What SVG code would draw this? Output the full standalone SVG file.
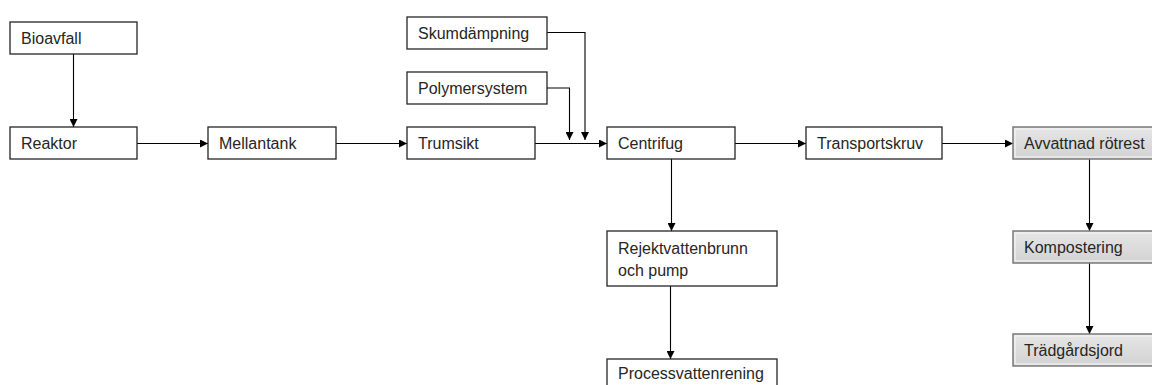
<svg xmlns="http://www.w3.org/2000/svg" width="1152" height="385" viewBox="0 0 1152 385">
<style>
.box{fill:#ffffff;stroke:#262626;stroke-width:1.3}
.gbox{fill:url(#gg);stroke:#7a7a7a;stroke-width:1.5}
.bevel{fill:none;stroke:#f4f4f4;stroke-width:1.2}
.t{font-family:"Liberation Sans",Arial,sans-serif;font-size:16px;fill:#262626}
.c{fill:none;stroke:#000000;stroke-width:1.1}
</style>
<defs>
<marker id="ah" viewBox="0 0 10 10" refX="10" refY="5" markerWidth="8" markerHeight="8" markerUnits="userSpaceOnUse" orient="auto">
<path d="M0,0 L10,5 L0,10 Z" fill="#000"/>
</marker>
<linearGradient id="gg" x1="0" y1="0" x2="0" y2="1">
<stop offset="0" stop-color="#e6e6e6"/>
<stop offset="1" stop-color="#d2d2d2"/>
</linearGradient>
</defs>
<g id="connectors">
<path class="c" d="M73.5,54 V127" marker-end="url(#ah)"/>
<path class="c" d="M137,143.5 H208" marker-end="url(#ah)"/>
<path class="c" d="M336,143.5 H407" marker-end="url(#ah)"/>
<path class="c" d="M535,143.5 H607" marker-end="url(#ah)"/>
<path class="c" d="M547,32.5 H585 V140" marker-end="url(#ah)"/>
<path class="c" d="M547,88 H569.5 V140" marker-end="url(#ah)"/>
<path class="c" d="M735,143.5 H806" marker-end="url(#ah)"/>
<path class="c" d="M942,143.5 H1013" marker-end="url(#ah)"/>
<path class="c" d="M671.5,159 V231" marker-end="url(#ah)"/>
<path class="c" d="M670.5,286 V359" marker-end="url(#ah)"/>
<path class="c" d="M1089.5,159 V231" marker-end="url(#ah)"/>
<path class="c" d="M1089.5,263 V334" marker-end="url(#ah)"/>
</g>
<g id="bioavfall"><rect class="box" x="10" y="22" width="127" height="32"/><text class="t" x="21" y="44">Bioavfall</text></g>
<g id="reaktor"><rect class="box" x="10" y="127" width="127" height="32"/><text class="t" x="21" y="149">Reaktor</text></g>
<g id="mellantank"><rect class="box" x="208" y="127" width="128" height="32"/><text class="t" x="219" y="149">Mellantank</text></g>
<g id="skumdampning"><rect class="box" x="407" y="17" width="140" height="32"/><text class="t" x="418" y="39">Skumdämpning</text></g>
<g id="polymersystem"><rect class="box" x="407" y="72" width="140" height="32"/><text class="t" x="418" y="94">Polymersystem</text></g>
<g id="trumsikt"><rect class="box" x="407" y="127" width="128" height="32"/><text class="t" x="418" y="149">Trumsikt</text></g>
<g id="centrifug"><rect class="box" x="607" y="127" width="128" height="32"/><text class="t" x="618" y="149">Centrifug</text></g>
<g id="transportskruv"><rect class="box" x="806" y="127" width="136" height="32"/><text class="t" x="817" y="149">Transportskruv</text></g>
<g id="rejektvattenbrunn"><rect class="box" x="607" y="231" width="170" height="55"/><text class="t" x="618" y="254">Rejektvattenbrunn</text><text class="t" x="618" y="276">och pump</text></g>
<g id="processvattenrening"><rect class="box" x="607" y="359" width="170" height="40"/><text class="t" x="618" y="379">Processvattenrening</text></g>
<g id="avvattnad"><rect class="gbox" x="1013" y="127" width="160" height="32"/><rect class="bevel" x="1015" y="129" width="160" height="28"/><text class="t" x="1024" y="149">Avvattnad rötrest</text></g>
<g id="kompostering"><rect class="gbox" x="1013" y="231" width="160" height="32"/><rect class="bevel" x="1015" y="233" width="160" height="28"/><text class="t" x="1024" y="253">Kompostering</text></g>
<g id="tradgardsjord"><rect class="gbox" x="1013" y="334" width="160" height="32"/><rect class="bevel" x="1015" y="336" width="160" height="28"/><text class="t" x="1024" y="356">Trädgårdsjord</text></g>
</svg>
